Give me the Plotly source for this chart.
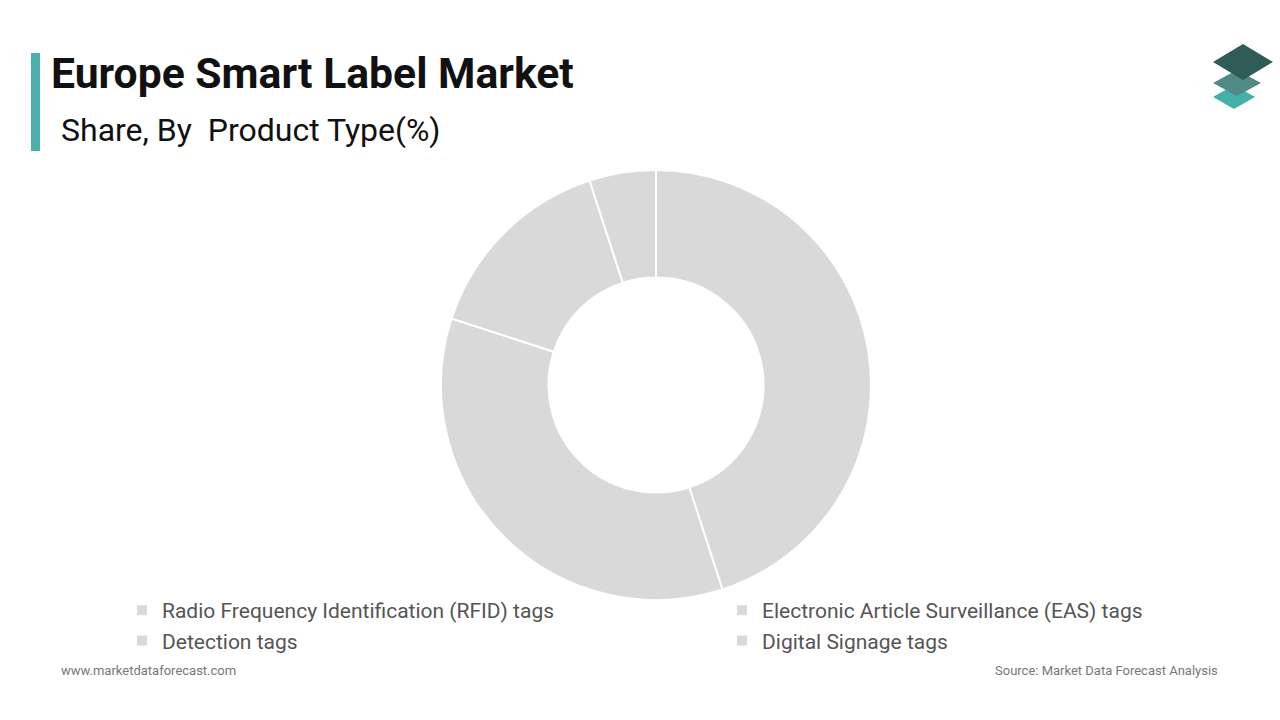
import plotly.graph_objects as go

categories = ["Radio Frequency Identification (RFID) tags",
              "Electronic Article Surveillance (EAS) tags",
              "Detection tags",
              "Digital Signage tags"]
shares = [45, 35, 15, 5]
slice_colors = ["#d9d9d9", "#d9d9d9", "#d9d9d9", "#d9d9d9"]

title_text = "Europe Smart Label Market"
subtitle_text = "Share, By  Product Type(%)"
footer_left = "www.marketdataforecast.com"
footer_right = "Source: Market Data Forecast Analysis"

W, H = 1280, 720
PLOT_BOTTOM = 600           # legend sits below the plot area
ML, MB = 130, H - PLOT_BOTTOM
GW, GH = W - ML, H - MB


def px(x):
    return (x - ML) / GW


def py(y):
    return (H - MB - y) / GH


cx, cy, r = 656, 385, 215

fig = go.Figure(go.Pie(
    labels=categories,
    values=shares,
    hole=0.5,
    sort=False,
    direction="clockwise",
    rotation=0,
    textinfo="none",
    hoverinfo="label+percent",
    marker=dict(colors=slice_colors, line=dict(color="white", width=2)),
    domain=dict(x=[px(cx - r), px(cx + r)],
                y=[max(0.0, py(cy + r)), min(1.0, py(cy - r))]),
))

shapes = [
    dict(type="rect", xref="paper", yref="paper", x0=px(31), x1=px(40),
         y0=py(151), y1=py(53), fillcolor="#4aafaa", line=dict(width=0)),
]


def diamond(cxp, cyp, hw, hh, color):
    pts = [(cxp, cyp - hh), (cxp + hw, cyp), (cxp, cyp + hh), (cxp - hw, cyp)]
    path = "M " + " L ".join(f"{px(x):.5f},{py(y):.5f}" for x, y in pts) + " Z"
    return dict(type="path", xref="paper", yref="paper", path=path,
                fillcolor=color, line=dict(width=0))


shapes += [
    diamond(1234, 97, 21, 12, "#45b0aa"),
    diamond(1237, 83, 24, 13, "#4f8a85"),
    diamond(1243, 62, 30, 18, "#2f5c57"),
]

annotations = [
    dict(text=f"<b>{title_text}</b>", x=px(49), y=py(73), xref="paper", yref="paper",
         xanchor="left", yanchor="middle", showarrow=False,
         font=dict(family="Roboto", size=42.7, color="#111111")),
    dict(text=subtitle_text, x=px(59), y=py(130), xref="paper", yref="paper",
         xanchor="left", yanchor="middle", showarrow=False,
         font=dict(family="Roboto", size=32, color="#111111")),
    dict(text=footer_left, x=px(59), y=py(670), xref="paper", yref="paper",
         xanchor="left", yanchor="middle", showarrow=False,
         font=dict(family="Roboto", size=13, color="#777777")),
    dict(text=footer_right, x=px(1220), y=py(670), xref="paper", yref="paper",
         xanchor="right", yanchor="middle", showarrow=False,
         font=dict(family="Roboto", size=13, color="#777777")),
]

fig.update_layout(
    width=W, height=H,
    margin=dict(l=ML, r=0, t=0, b=MB, autoexpand=False),
    paper_bgcolor="white", plot_bgcolor="white",
    shapes=shapes, annotations=annotations,
    showlegend=True,
    legend=dict(orientation="h", x=px(122), y=py(661), xanchor="left", yanchor="bottom",
                entrywidth=555, entrywidthmode="pixels",
                font=dict(family="Roboto", size=21, color="#555555"),
                itemsizing="constant", tracegroupgap=0, bgcolor="rgba(0,0,0,0)"),
)

fig.write_html("out.html")
